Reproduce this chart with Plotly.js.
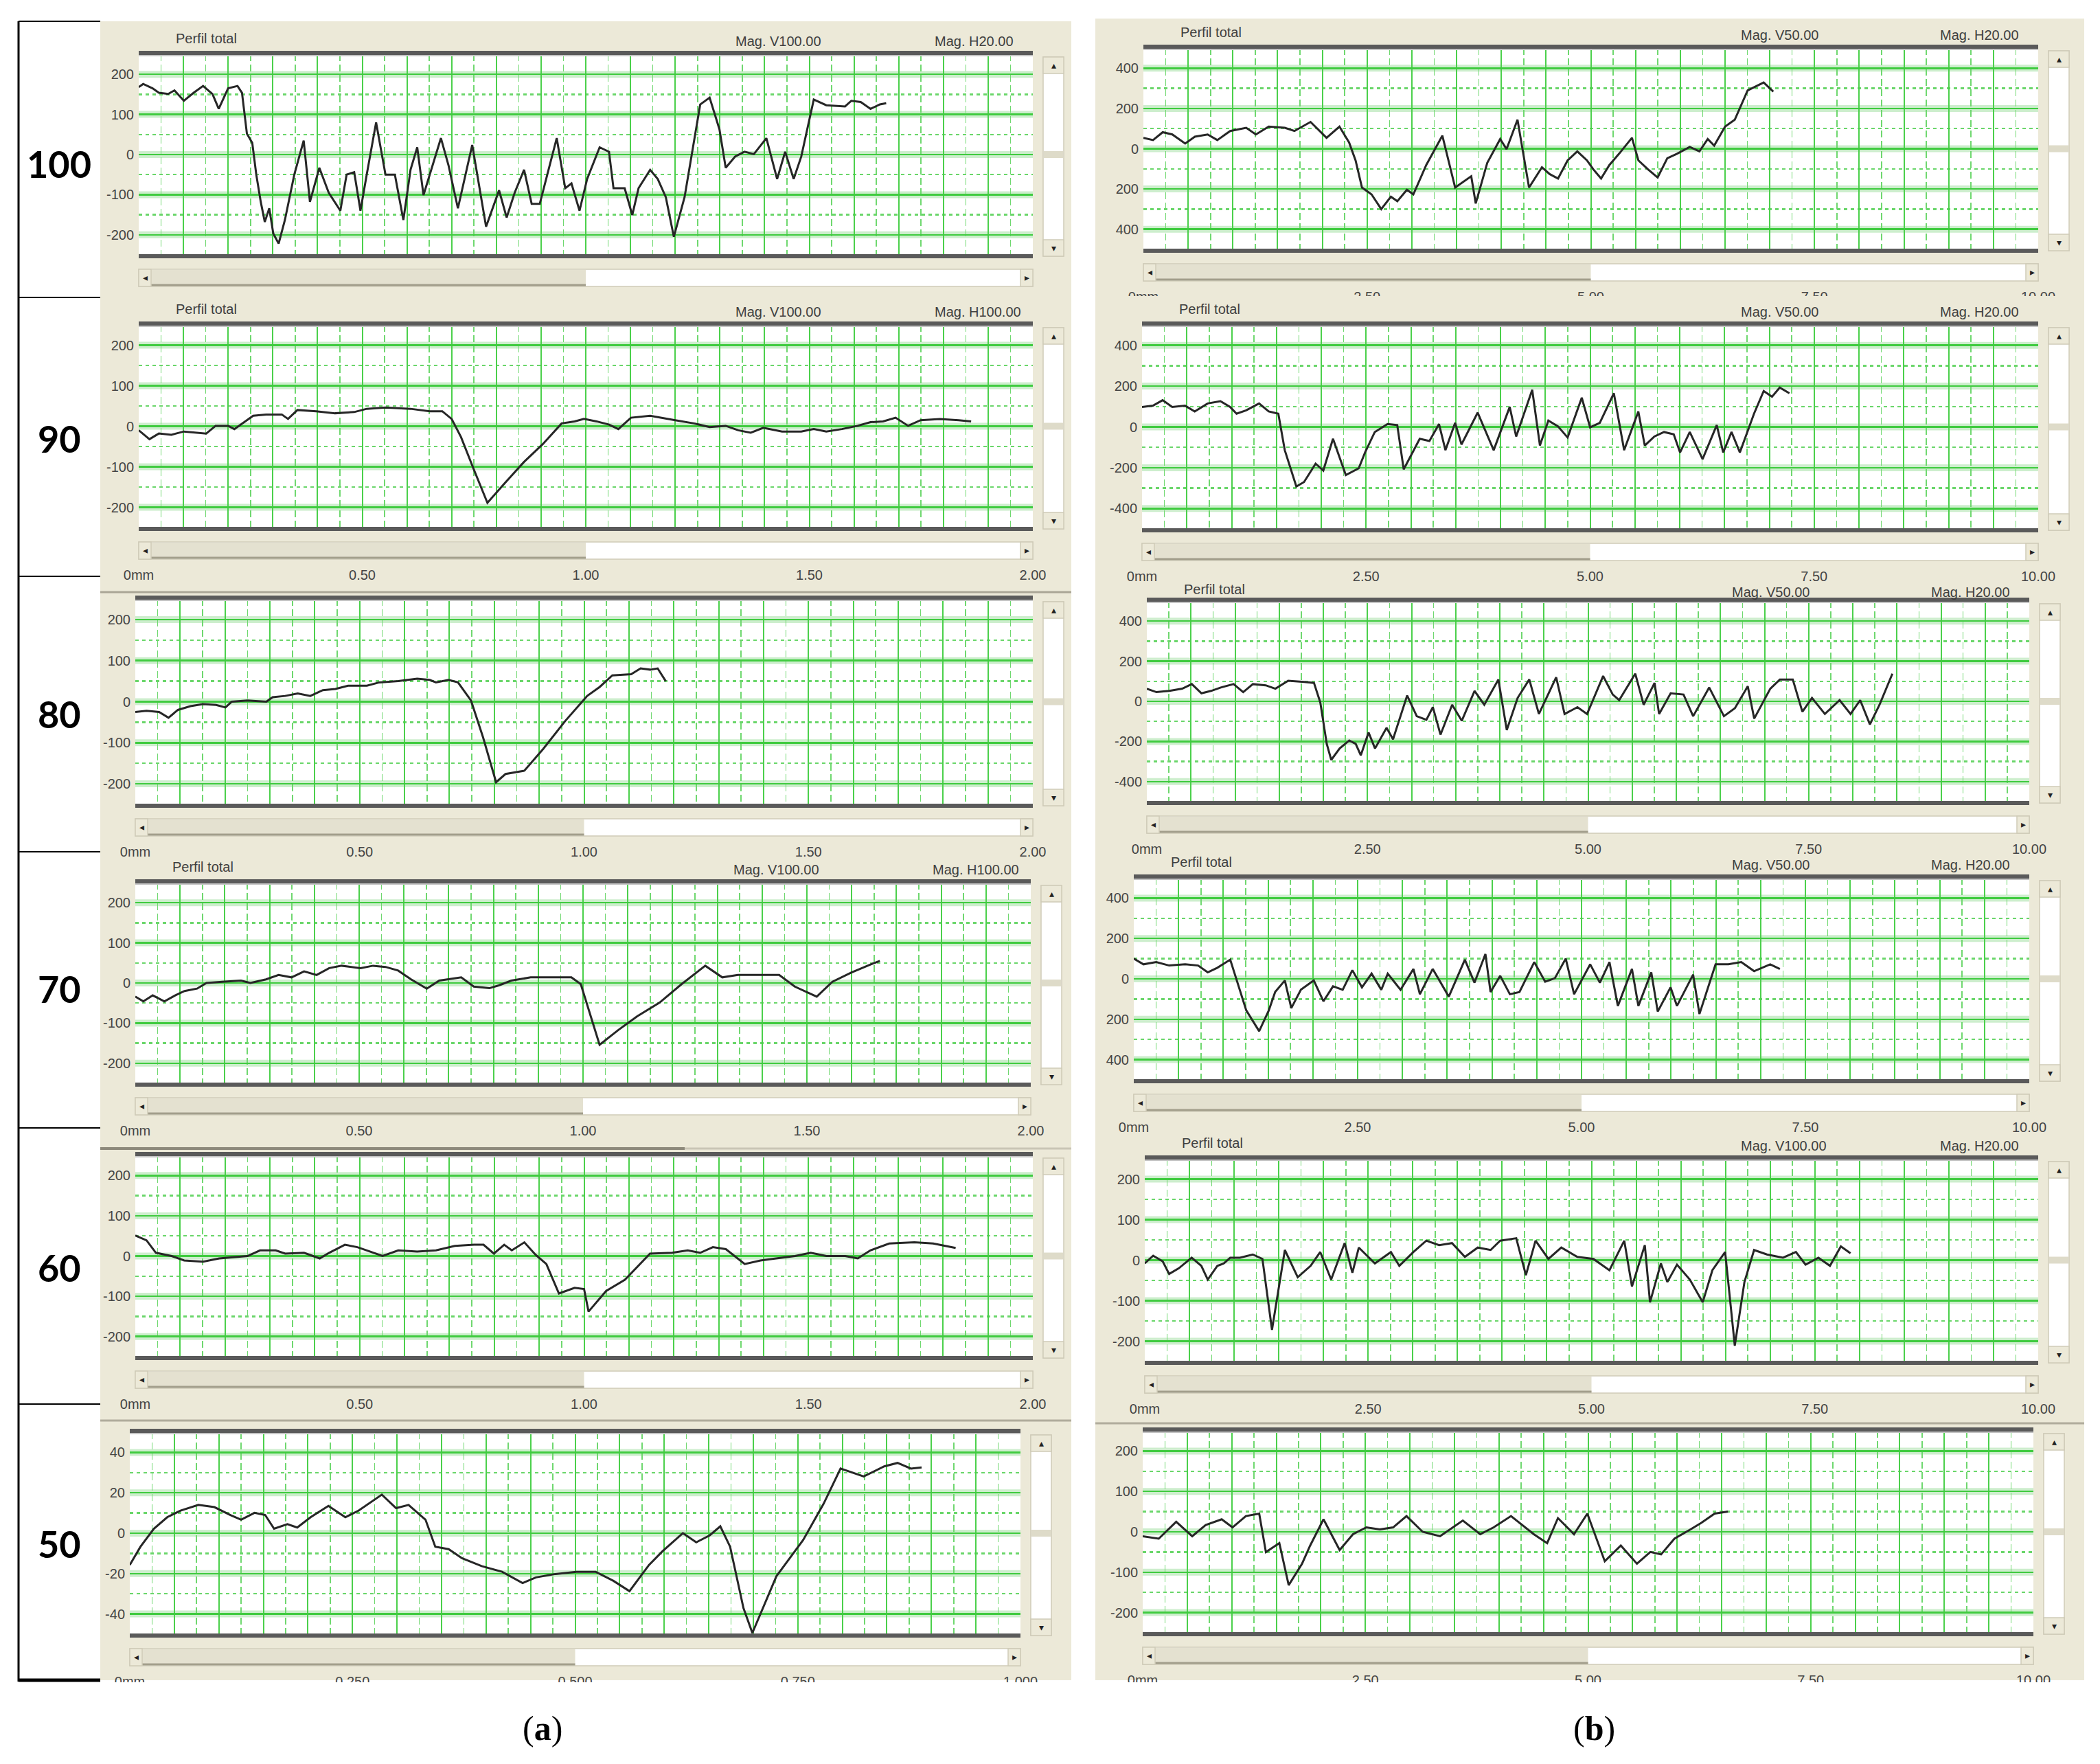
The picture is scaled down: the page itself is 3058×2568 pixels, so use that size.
<!DOCTYPE html>
<html>
<head>
<meta charset="utf-8">
<script src="https://cdn.plot.ly/plotly-3.0.1.min.js"></script>
<style>html,body{margin:0;padding:0;background:#fff}</style>
</head>
<body>
<div id="chart" style="width:3058px;height:2568px"></div>
<script>
// profile readings, x in mm, y in um
const a100X = [0,0.01,0.031,0.045,0.066,0.080,0.101,0.123,0.144,0.165,0.179,0.2,0.221,0.231,0.242,0.254,0.263,0.273,0.282,0.292,0.301,0.313,0.327,0.348,0.369,0.383,0.404,0.425,0.451,0.465,0.482,0.496,0.51,0.531,0.552,0.573,0.592,0.608,0.623,0.637,0.676,0.693,0.714,0.746,0.777,0.806,0.823,0.841,0.862,0.879,0.897,0.935,0.954,0.968,0.986,1.003,1.031,1.052,1.062,1.087,1.104,1.118,1.144,1.161,1.179,1.197,1.221,1.256,1.277,1.299,1.313,1.334,1.355,1.376,1.404,1.428,1.446,1.465,1.482,1.51,1.538,1.58,1.594,1.615,1.637,1.658,1.672];
const a100Y = [168,176,165,154,151,160,134,154,171,151,114,165,171,154,52,29,-50,-118,-168,-134,-197,-222,-163,-50,35,-118,-33,-95,-140,-50,-44,-140,-50,80,-50,-50,-163,-38,18,-101,41,-27,-134,24,-180,-89,-157,-95,-38,-123,-123,41,-84,-72,-140,-61,18,7,-84,-84,-151,-84,-38,-61,-106,-205,-106,125,142,63,-33,-5,7,1,41,-61,7,-61,-5,137,123,120,134,131,114,125,128];

const a90X = [0,0.024,0.045,0.073,0.101,0.130,0.151,0.172,0.2,0.214,0.256,0.285,0.320,0.334,0.355,0.397,0.439,0.482,0.510,0.552,0.608,0.651,0.679,0.700,0.721,0.749,0.780,0.820,0.862,0.904,0.946,0.975,0.996,1.024,1.052,1.073,1.101,1.144,1.172,1.200,1.242,1.277,1.313,1.341,1.369,1.397,1.439,1.482,1.510,1.538,1.573,1.608,1.637,1.665,1.693,1.721,1.749,1.792,1.834,1.862];
const a90Y = [-10,-32,-18,-21,-13,-16,-18,1,1,-7,26,29,29,18,40,37,32,35,43,46,43,37,37,18,-27,-105,-189,-139,-88,-44,7,12,18,12,4,-7,21,26,21,15,7,-2,1,-10,-16,-4,-13,-13,-7,-13,-7,1,10,12,21,1,15,18,15,12];

const a80X = [0,0.025,0.053,0.074,0.095,0.123,0.151,0.180,0.201,0.215,0.250,0.292,0.306,0.334,0.362,0.390,0.418,0.446,0.474,0.516,0.544,0.586,0.628,0.656,0.670,0.698,0.719,0.748,0.775,0.804,0.825,0.867,0.909,0.958,1.007,1.035,1.063,1.105,1.126,1.147,1.164,1.182];
const a80Y = [-25,-22,-25,-39,-20,-11,-6,-8,-14,0,3,0,11,14,20,14,28,31,39,39,47,50,56,53,47,53,47,3,-87,-196,-176,-168,-115,-47,14,36,64,67,81,78,81,50];

const a70X = [0,0.018,0.039,0.065,0.089,0.110,0.138,0.159,0.194,0.236,0.257,0.292,0.320,0.349,0.377,0.405,0.433,0.461,0.503,0.531,0.559,0.587,0.616,0.651,0.679,0.700,0.728,0.756,0.791,0.812,0.840,0.883,0.925,0.974,0.995,1.037,1.079,1.121,1.171,1.220,1.273,1.311,1.346,1.403,1.438,1.473,1.522,1.557,1.599,1.642,1.663];
const a70Y = [-34,-46,-31,-46,-31,-20,-14,0,3,6,0,9,20,14,29,20,37,43,37,43,40,31,9,-14,6,9,14,-9,-13,-6,6,14,14,14,-3,-154,-117,-83,-49,-3,43,14,20,20,20,-9,-34,3,26,46,55];

const a60X = [0,0.025,0.046,0.081,0.109,0.151,0.187,0.222,0.250,0.278,0.313,0.334,0.376,0.411,0.432,0.467,0.495,0.516,0.551,0.586,0.628,0.670,0.712,0.755,0.776,0.799,0.822,0.839,0.867,0.892,0.916,0.944,0.979,1.000,1.010,1.049,1.091,1.147,1.196,1.231,1.259,1.287,1.316,1.358,1.393,1.428,1.470,1.505,1.540,1.582,1.610,1.638,1.680,1.736,1.778,1.828];
const a60Y = [51,39,8,0,-11,-14,-6,-3,0,14,14,6,8,-6,8,28,22,14,0,14,11,14,25,28,28,6,28,14,34,3,-20,-93,-79,-82,-138,-87,-59,6,8,14,8,22,17,-20,-11,-6,0,8,0,0,-6,14,31,34,31,20];

const a50X = [0,0.012,0.027,0.042,0.057,0.077,0.095,0.113,0.125,0.140,0.152,0.162,0.177,0.188,0.203,0.223,0.242,0.257,0.283,0.299,0.313,0.332,0.343,0.358,0.373,0.395,0.418,0.441,0.456,0.478,0.501,0.523,0.543,0.561,0.583,0.598,0.621,0.636,0.651,0.663,0.674,0.689,0.699,0.726,0.756,0.779,0.798,0.824,0.847,0.862,0.877,0.889];
const a50Y = [-15.7,-6.7,2.2,7.9,11.2,14,12.9,9,6.7,10.1,9,2.2,4.5,2.8,7.9,13.5,7.9,11.2,19.1,12.4,14,6.7,-6.7,-7.9,-12.4,-16.3,-19.1,-24.7,-21.9,-20.2,-19.1,-19.1,-23.6,-28.7,-15.7,-9,0,-4.5,-1.1,3.4,-6.7,-37.1,-49.4,-21.3,-3.4,14.6,32,28.1,33.1,34.8,32,32.6];

const b100X = [0,0.108,0.216,0.323,0.467,0.575,0.718,0.826,0.970,1.149,1.257,1.401,1.580,1.688,1.868,2.047,2.191,2.299,2.371,2.443,2.550,2.658,2.766,2.838,2.945,3.017,3.161,3.341,3.484,3.664,3.714,3.843,3.987,4.059,4.181,4.310,4.454,4.540,4.634,4.741,4.849,4.957,5.029,5.115,5.208,5.316,5.460,5.532,5.640,5.747,5.855,5.963,6.106,6.214,6.307,6.379,6.501,6.609,6.753,6.932,7.040];
const b100Y = [54,43,82,71,26,60,71,43,88,104,71,110,104,88,133,54,110,31,-58,-193,-227,-300,-238,-261,-204,-227,-81,65,-193,-137,-272,-70,48,-2,144,-193,-92,-126,-148,-58,-13,-58,-103,-148,-81,-25,54,-58,-103,-143,-47,-25,9,-13,48,15,110,144,290,329,284];

const b90X = [0,0.122,0.230,0.337,0.481,0.588,0.732,0.875,0.983,1.055,1.162,1.306,1.413,1.521,1.593,1.722,1.808,1.937,2.023,2.131,2.274,2.418,2.489,2.597,2.740,2.848,2.920,3.099,3.207,3.314,3.386,3.494,3.565,3.745,3.924,4.103,4.175,4.354,4.440,4.534,4.641,4.749,4.907,5.0,5.108,5.179,5.265,5.380,5.538,5.610,5.717,5.825,5.933,6.004,6.112,6.255,6.413,6.485,6.578,6.671,6.829,6.937,7.030,7.116,7.224];
const b90Y = [98,104,131,98,104,76,115,126,98,65,81,115,76,65,-114,-292,-270,-180,-214,-58,-236,-203,-125,-25,14,9,-208,-58,-69,14,-114,20,-86,70,-114,98,-47,182,-91,31,3,-52,143,-2,20,87,165,-114,76,-91,-47,-25,-36,-125,-25,-158,9,-125,-25,-125,65,176,148,193,165];

const b80X = [0,0.109,0.255,0.401,0.510,0.619,0.728,0.838,0.983,1.092,1.202,1.347,1.457,1.602,1.784,1.894,1.966,2.039,2.090,2.185,2.294,2.367,2.425,2.513,2.586,2.717,2.790,2.950,3.059,3.168,3.241,3.328,3.460,3.569,3.714,3.824,3.984,4.079,4.202,4.334,4.443,4.639,4.734,4.880,4.989,5.171,5.280,5.353,5.535,5.630,5.754,5.805,5.936,6.082,6.191,6.373,6.540,6.664,6.810,6.883,7.065,7.174,7.320,7.429,7.538,7.684,7.851,7.975,8.084,8.194,8.303,8.449];
const b80Y = [63,46,52,63,86,40,52,69,86,46,86,80,63,103,97,92,-6,-212,-292,-235,-195,-212,-269,-155,-235,-132,-189,29,-74,-92,-29,-166,-17,-97,52,-17,109,-143,17,109,-63,120,-63,-29,-63,126,34,6,138,-17,92,-63,40,34,-74,69,-74,-34,75,-86,63,109,109,-52,17,-63,6,-63,6,-115,-17,138];

const b70X = [0,0.108,0.251,0.395,0.574,0.718,0.826,0.933,1.077,1.149,1.256,1.400,1.508,1.579,1.687,1.759,1.866,2.010,2.118,2.225,2.333,2.441,2.548,2.656,2.764,2.836,2.979,3.123,3.195,3.338,3.518,3.697,3.805,3.927,3.984,4.092,4.200,4.307,4.472,4.594,4.702,4.824,4.917,5.097,5.205,5.312,5.406,5.563,5.635,5.779,5.851,5.994,6.066,6.246,6.317,6.497,6.640,6.784,6.927,7.107,7.215];
const b70Y = [100,72,83,66,72,66,32,55,95,-8,-156,-259,-156,-65,-8,-145,-54,-8,-111,-37,-54,43,-42,26,-54,26,-54,49,-76,49,-88,95,-19,123,-65,15,-76,-65,83,-14,3,100,-76,72,-19,83,-134,49,-134,32,-162,-42,-134,21,-174,72,72,83,38,72,49];

const b60X = [0,0.094,0.201,0.273,0.381,0.525,0.633,0.705,0.813,0.885,0.957,1.065,1.209,1.317,1.424,1.568,1.712,1.856,1.964,2.086,2.237,2.324,2.396,2.576,2.755,2.849,3.007,3.151,3.295,3.439,3.583,3.727,3.871,3.978,4.158,4.266,4.374,4.518,4.662,4.842,5.022,5.201,5.367,5.453,5.597,5.655,5.777,5.849,5.957,6.101,6.245,6.353,6.496,6.604,6.712,6.820,6.964,7.144,7.288,7.396,7.540,7.669,7.791,7.899];
const b60Y = [-8,11,-3,-34,-20,6,-14,-48,-14,-8,6,6,14,3,-172,25,-42,-14,20,-48,42,-31,31,-8,20,-14,20,48,37,42,8,31,25,48,54,-37,48,3,31,8,3,-25,48,-65,37,-104,-8,-54,-11,-48,-104,-25,20,-211,-54,25,14,6,20,-11,6,-14,34,17];

const b50X = [0,0.180,0.376,0.556,0.707,0.887,1.008,1.158,1.308,1.383,1.534,1.639,1.789,1.880,2.030,2.211,2.361,2.511,2.662,2.812,2.962,3.143,3.338,3.594,3.789,3.940,4.135,4.391,4.541,4.662,4.842,4.992,5.188,5.368,5.549,5.699,5.820,5.970,6.150,6.271,6.421,6.571];
const b50Y = [-11,-17,25,-11,17,31,11,39,45,-50,-28,-132,-79,-34,31,-45,-6,11,6,11,39,0,-11,28,-6,11,39,-6,-28,34,-6,45,-73,-34,-79,-50,-56,-17,6,22,45,50];

// tick labels as printed by the profilometer software
const yLab250 = ['-200', '-100', '0', '100', '200'];
const yLab500 = ['-400', '-200', '0', '200', '400'];
const yLab500b = ['400', '200', '0', '200', '400'];
const yLab50 = ['-40', '-20', '0', '20', '40'];
const xLabA = ['0mm', '0.50', '1.00', '1.50', '2.00'];
const xLabA50 = ['0mm', '0.250', '0.500', '0.750', '1.000'];
const xLabB = ['0mm', '2.50', '5.00', '7.50', '10.00'];
const rowLabels = ['100', '90', '80', '70', '60', '50'];

const W = 3058, H = 2568;
const fx = px => px / W;
const fy = py => 1 - py / H;
const beige = '#ece9d8';
const txtFont = 'Liberation Sans, Arial, sans-serif';

// box = [left, top, right, bottom] of the plotting window, page pixels
const panels = [
    { x: a100X, y: a100Y, box: [202, 79, 1504, 371], xmax: 2, ymax: 250, yl: yLab250, xl: null, mag: ['Mag. V100.00', 'Mag. H20.00'] },
    { x: a90X, y: a90Y, box: [202, 473, 1504, 768], xmax: 2, ymax: 250, yl: yLab250, xl: xLabA, mag: ['Mag. V100.00', 'Mag. H100.00'] },
    { x: a80X, y: a80Y, box: [197, 872, 1504, 1171], xmax: 2, ymax: 250, yl: yLab250, xl: xLabA, mag: null },
    { x: a70X, y: a70Y, box: [197, 1285, 1501, 1577], xmax: 2, ymax: 250, yl: yLab250, xl: xLabA, mag: ['Mag. V100.00', 'Mag. H100.00'] },
    { x: a60X, y: a60Y, box: [197, 1682, 1504, 1975], xmax: 2, ymax: 250, yl: yLab250, xl: xLabA, mag: null },
    { x: a50X, y: a50Y, box: [189, 2085, 1486, 2379], xmax: 1, ymax: 50, yl: yLab50, xl: xLabA50, mag: null },
    { x: b100X, y: b100Y, box: [1665, 70, 2968, 363], xmax: 10, ymax: 500, yl: yLab500b, xl: xLabB, mag: ['Mag. V50.00', 'Mag. H20.00'] },
    { x: b90X, y: b90Y, box: [1663, 473, 2968, 770], xmax: 10, ymax: 500, yl: yLab500, xl: xLabB, mag: ['Mag. V50.00', 'Mag. H20.00'] },
    { x: b80X, y: b80Y, box: [1670, 875, 2955, 1167], xmax: 10, ymax: 500, yl: yLab500, xl: xLabB, mag: ['Mag. V50.00', 'Mag. H20.00'], headDy: -15 },
    { x: b70X, y: b70Y, box: [1651, 1278, 2955, 1572], xmax: 10, ymax: 500, yl: yLab500b, xl: xLabB, mag: ['Mag. V50.00', 'Mag. H20.00'] },
    { x: b60X, y: b60Y, box: [1667, 1687, 2968, 1982], xmax: 10, ymax: 250, yl: yLab250, xl: xLabB, mag: ['Mag. V100.00', 'Mag. H20.00'] },
    { x: b50X, y: b50Y, box: [1664, 2083, 2961, 2377], xmax: 10, ymax: 250, yl: yLab250, xl: xLabB, mag: null }
];

const data = [];
const shapes = [];
const annotations = [];
const layout = {
    width: W, height: H,
    margin: { l: 0, r: 0, t: 0, b: 0 },
    paper_bgcolor: '#ffffff',
    plot_bgcolor: 'rgba(0,0,0,0)',
    showlegend: false,
    shapes: shapes,
    annotations: annotations
};

function rect(x0, y0, x1, y1, fill, line, layer) {
    shapes.push({
        type: 'rect', xref: 'paper', yref: 'paper',
        x0: fx(x0), x1: fx(x1), y0: fy(y1), y1: fy(y0),
        fillcolor: fill,
        line: line ? { color: line, width: 1.5 } : { width: 0 },
        layer: layer || 'below'
    });
}

function seg(x0, y0, x1, y1, color, width, layer) {
    shapes.push({
        type: 'line', xref: 'paper', yref: 'paper',
        x0: fx(x0), x1: fx(x1), y0: fy(y0), y1: fy(y1),
        line: { color: color, width: width },
        layer: layer || 'below'
    });
}

function text(px, py, str, size, opts) {
    annotations.push(Object.assign({
        xref: 'paper', yref: 'paper', x: fx(px), y: fy(py),
        text: str, showarrow: false, xanchor: 'left', yanchor: 'middle',
        font: { family: txtFont, size: size, color: '#404040' }
    }, opts || {}));
}

// window backgrounds of the two screenshot columns
rect(146, 31, 1560, 2446, beige);
rect(1595, 27, 3035, 2446, beige);

// seams between stacked screenshots
seg(146, 862, 1560, 862, '#aaa696', 3);
seg(146, 1672, 997, 1672, '#8d897b', 4);
seg(997, 1672, 1560, 1672, '#c9c5b5', 3);
seg(146, 2068, 1560, 2068, '#b0ac9c', 3);
seg(1595, 2072, 3035, 2072, '#b0ac9c', 3);

panels.forEach((p, i) => {
    const n = i + 1;
    const sfx = n === 1 ? '' : String(n);
    const [L, T, R, B] = p.box;
    const mid = (L + R) / 2;

    // plotting window
    rect(L, T, R, B, '#ffffff');

    // horizontal scrollbar
    rect(L, B + 21, R, B + 46, '#ffffff', '#cfcbb8');
    rect(L + 18, B + 22, mid, B + 45, '#e4e1d0');
    seg(L + 18, B + 44, mid, B + 44, '#a29e8b', 3);
    rect(L, B + 21, L + 18, B + 46, beige, '#cfcbb8');
    rect(R - 18, B + 21, R, B + 46, beige, '#cfcbb8');
    text(L + 9, B + 33, '◂', 14, { xanchor: 'center', font: { family: 'DejaVu Sans', size: 14, color: '#222' } });
    text(R - 9, B + 33, '▸', 14, { xanchor: 'center', font: { family: 'DejaVu Sans', size: 14, color: '#222' } });

    // vertical scrollbar
    rect(R + 15, T + 4, R + 45, B + 2, '#ffffff', '#cfcbb8');
    rect(R + 15, T + 4, R + 45, T + 28, beige, '#cfcbb8');
    rect(R + 15, B - 22, R + 45, B + 2, beige, '#cfcbb8');
    rect(R + 16, (T + B) / 2 - 5, R + 44, (T + B) / 2 + 5, '#dedbc9');
    text(R + 30, T + 16, '▴', 14, { xanchor: 'center', font: { family: 'DejaVu Sans', size: 14, color: '#222' } });
    text(R + 30, B - 10, '▾', 14, { xanchor: 'center', font: { family: 'DejaVu Sans', size: 14, color: '#222' } });

    // frame bars top and bottom
    seg(L, T - 2, R, T - 2, '#5a5a5a', 6, 'above');
    seg(L, T + 2, R, T + 2, '#c4c4c4', 2, 'above');
    seg(L, B + 2, R, B + 2, '#5a5a5a', 6, 'above');

    // header texts
    if (p.mag) {
        const dy = p.headDy || -21;
        text(L + 52, T + dy - 2, 'Perfil total', 20);
        text(R - 435, T + dy + 2, p.mag[0], 20);
        text(R - 145, T + dy + 2, p.mag[1], 20);
    }

    // axes
    const xv = [], xt = [], xm = [];
    for (let k = 0; k <= 20; k++) {
        xv.push(p.xmax * k / 20);
        xt.push(p.xl && k % 5 === 0 ? p.xl[k / 5] : '');
        if (k < 20) xm.push(p.xmax * (k + 0.5) / 20);
    }
    const yv = [-0.8, -0.4, 0, 0.4, 0.8].map(f => f * p.ymax);
    const ym = [-0.6, -0.2, 0.2, 0.6].map(f => f * p.ymax);

    layout['xaxis' + sfx] = {
        domain: [fx(L), fx(R)], anchor: 'y' + sfx, range: [0, p.xmax],
        tickmode: 'array', tickvals: xv, ticktext: xt,
        showticklabels: !!p.xl, ticks: '', ticklabelstandoff: 55, tickangle: 0,
        tickfont: { family: txtFont, size: 20, color: '#454545' },
        showgrid: true, gridcolor: '#4bd04b', gridwidth: 2,
        minor: { tickmode: 'array', tickvals: xm, showgrid: true, gridcolor: '#6fd86f', gridwidth: 1.6, griddash: '10px,5px', ticks: '' },
        zeroline: false, showline: false, fixedrange: true
    };
    layout['yaxis' + sfx] = {
        domain: [fy(B), fy(T)], anchor: 'x' + sfx, range: [-p.ymax, p.ymax],
        tickmode: 'array', tickvals: yv, ticktext: p.yl,
        ticks: '', ticklabelstandoff: 6,
        tickfont: { family: txtFont, size: 20, color: '#454545' },
        showgrid: true, gridcolor: '#3fcb3f', gridwidth: 2.5,
        minor: { tickmode: 'array', tickvals: ym, showgrid: true, gridcolor: '#6ad66a', gridwidth: 2.5, griddash: '5px,5px', ticks: '' },
        zeroline: false, showline: false, fixedrange: true
    };

    // light halo under the major horizontal grid lines
    yv.forEach(v => {
        shapes.push({
            type: 'line', xref: 'x' + sfx + ' domain', yref: 'y' + sfx,
            x0: 0, x1: 1, y0: v, y1: v,
            line: { color: '#cdeecd', width: 10 }, layer: 'below'
        });
    });

    data.push({
        type: 'scatter', mode: 'lines',
        x: p.x, y: p.y,
        xaxis: 'x' + sfx, yaxis: 'y' + sfx,
        line: { color: '#262626', width: 3 },
        hoverinfo: 'skip'
    });
});

// parts of stacked screenshots that overlap the one above / page edge
rect(1595, 431, 3035, 440, beige, null, 'above');
rect(1595, 846, 3035, 856, beige, null, 'above');
rect(140, 2449, 3045, 2480, '#ffffff', null, 'above');

// left table with the row labels
seg(27, 31, 27, 2448, '#000000', 3);
const rowLines = [31, 433, 839, 1240, 1642, 2044];
rowLines.forEach(y => seg(27, y, 146, y, '#000000', 2));
seg(27, 2446, 146, 2446, '#000000', 5);
const rowCenters = [238, 638, 1039, 1439, 1845, 2247];
rowLabels.forEach((t, k) => {
    text(86, rowCenters[k], '<b>' + t + '</b>', 54, {
        xanchor: 'center',
        font: { family: 'Lato, Liberation Sans, sans-serif', size: 54, color: '#000000' }
    });
});

// sub-figure captions
text(790, 2516, '(<b>a</b>)', 50, { xanchor: 'center', font: { family: 'Liberation Serif, serif', size: 50, color: '#000000' } });
text(2321, 2516, '(<b>b</b>)', 50, { xanchor: 'center', font: { family: 'Liberation Serif, serif', size: 50, color: '#000000' } });

Plotly.newPlot('chart', data, layout, { staticPlot: true });
</script>
</body>
</html>
